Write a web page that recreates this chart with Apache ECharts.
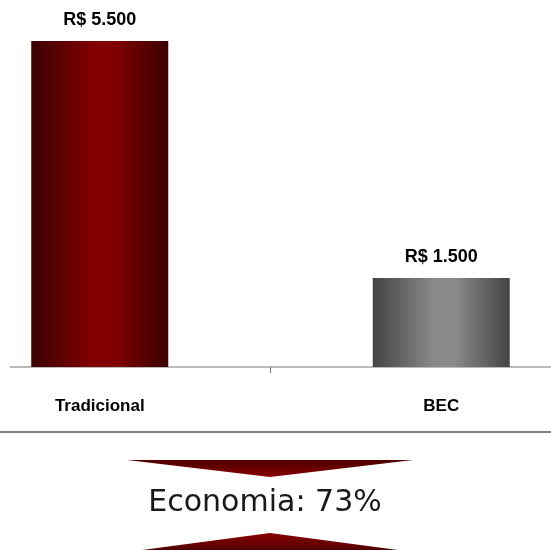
<!DOCTYPE html>
<html><head><meta charset="utf-8">
<script src="https://cdn.jsdelivr.net/npm/echarts@6/dist/echarts.min.js"></script>
<style>html,body{margin:0;padding:0;background:#fff}#c{width:551px;height:550px}</style>
</head><body><div id="c"></div>
<script>
var categories = ['Tradicional', 'BEC'];
var values = [5500, 1500];
var savingText = 'Economia: 73%';

function fmt(v){ return 'R$ ' + String(v).replace(/\B(?=(\d{3})+(?!\d))/g, '.'); }
function grad(edge, mid){
  return new echarts.graphic.LinearGradient(0,0,1,0,[
    {offset:0,color:edge},{offset:0.45,color:mid},{offset:0.6,color:mid},{offset:1,color:edge}]);
}
var colors = [grad('#3a0000','#820000'), grad('#444444','#8a8a8a')];

var chart = echarts.init(document.getElementById('c'));
chart.setOption({
  animation:false,
  grid:{left:-71, right:-61, top:41, bottom:183, containLabel:false, outerBoundsMode:'none'},
  xAxis:{type:'category', data:categories,
    axisLine:{show:false},
    axisTick:{show:true, length:6, lineStyle:{color:'#777', width:1}},
    axisLabel:{margin:31, fontFamily:'Liberation Sans', fontWeight:'bold', fontSize:17, color:'#000'}},
  yAxis:{type:'value', min:0, max:5500, show:false, splitLine:{show:false}},
  series:[{type:'bar', barWidth:137,
    data: values.map(function(v,i){ return {value:v, itemStyle:{color:colors[i]}}; }),
    label:{show:true, position:'top', distance:12, formatter:function(p){return fmt(p.value);},
      fontFamily:'Liberation Sans', fontWeight:'bold', fontSize:18, color:'#000'}
  }],
  graphic:[
    {type:'line', shape:{x1:10,y1:367,x2:551,y2:367}, style:{stroke:'#777', lineWidth:1.2}},
    {type:'line', shape:{x1:0,y1:432,x2:551,y2:432}, style:{stroke:'#555', lineWidth:1.5}},
    {type:'polygon', shape:{points:[[127,460],[413,460],[270,477]]},
      style:{fill:new echarts.graphic.LinearGradient(0,0,0,1,[{offset:0,color:'#4a0000'},{offset:1,color:'#8a0000'}])}},
    {type:'polygon', shape:{points:[[127,552],[413,552],[270,533]]},
      style:{fill:new echarts.graphic.LinearGradient(0,0,0,1,[{offset:0,color:'#8a0000'},{offset:1,color:'#4a0000'}])}},
    {type:'text', x:265, y:503, style:{text:savingText, fontFamily:'DejaVu Sans', fontSize:30,
      fill:'#1a1a1a', textAlign:'center', textVerticalAlign:'middle'}}
  ]
});
</script></body></html>
